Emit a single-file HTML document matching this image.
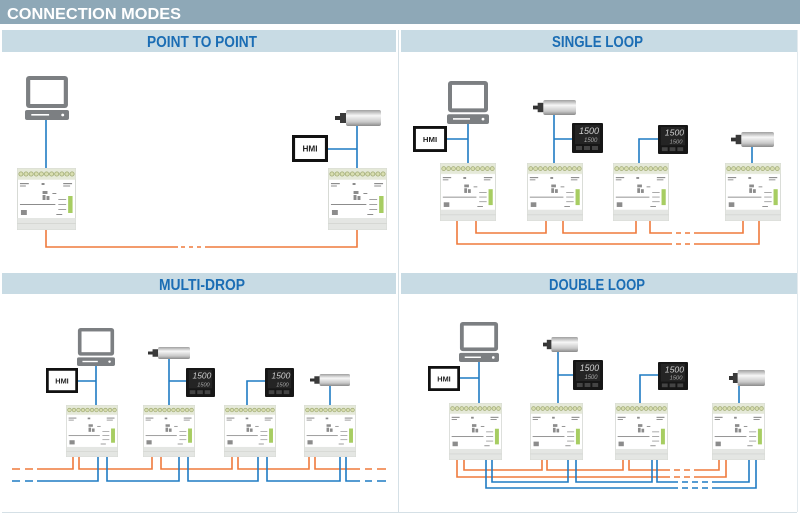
<!DOCTYPE html>
<html><head><meta charset="utf-8"><style>
html,body{margin:0;padding:0;background:#fff;width:800px;height:520px;overflow:hidden}
svg{display:block}
.hd{font-family:"Liberation Sans Narrow","Liberation Sans",sans-serif;font-weight:bold;fill:#1b6db4;font-size:16px}
.o{fill:none;stroke:#ef7a3c;stroke-width:1.6}
.b{fill:none;stroke:#1f7bc3;stroke-width:1.6}
</style></head><body>
<svg width="800" height="520" viewBox="0 0 800 520" xmlns="http://www.w3.org/2000/svg">
<defs>
<linearGradient id="mg" x1="0" y1="0" x2="0" y2="1">
<stop offset="0" stop-color="#a0a0a0"/><stop offset="0.35" stop-color="#f6f6f6"/><stop offset="0.75" stop-color="#c8c8c8"/><stop offset="1" stop-color="#8a8a8a"/></linearGradient>
<symbol id="dev" viewBox="0 0 60 62" preserveAspectRatio="none">
<rect x="0.5" y="0.5" width="59" height="61" fill="#f2f3f1" stroke="#d6d9d4"/>
<rect x="0.5" y="0.5" width="59" height="11" fill="#e5e9d8"/>
<g fill="#d8deb0" stroke="#a1ab76" stroke-width="0.8">
<circle cx="4" cy="6" r="2.1"/><circle cx="9.2" cy="6" r="2.1"/><circle cx="14.4" cy="6" r="2.1"/><circle cx="19.6" cy="6" r="2.1"/><circle cx="24.8" cy="6" r="2.1"/><circle cx="30" cy="6" r="2.1"/><circle cx="35.2" cy="6" r="2.1"/><circle cx="40.4" cy="6" r="2.1"/><circle cx="45.6" cy="6" r="2.1"/><circle cx="50.8" cy="6" r="2.1"/><circle cx="56" cy="6" r="2.1"/></g>
<rect x="1" y="12" width="58" height="38" fill="#fff"/>
<g fill="#8c8c8c"><rect x="3" y="15" width="9" height="1.2"/><rect x="3" y="17.5" width="6" height="1"/><rect x="25" y="15" width="3" height="2"/><rect x="47" y="15" width="9" height="1.2"/><rect x="47" y="17.5" width="7" height="1"/>
<rect x="26" y="23" width="5" height="3"/><rect x="26" y="27" width="3" height="5"/><rect x="30" y="28" width="3" height="4"/><rect x="36" y="25" width="4" height="1"/>
<rect x="3" y="36" width="36" height="1"/><rect x="42" y="31" width="8" height="0.8"/><rect x="42" y="36" width="8" height="0.8"/><rect x="42" y="41" width="8" height="0.8"/>
<rect x="4" y="42" width="6" height="5"/><rect x="40" y="46" width="6" height="1"/></g>
<rect x="52" y="28" width="4.5" height="17" fill="#a7cd62"/>
<rect x="0.5" y="50" width="59" height="11.5" fill="#e4e6e3"/>
<rect x="0.5" y="55" width="59" height="0.8" fill="#d2d4d1"/>
</symbol>
<symbol id="pc" viewBox="0 0 42 44" preserveAspectRatio="none">
<rect x="1" y="0" width="40" height="32" rx="3" fill="#7c7f82"/>
<rect x="5" y="4" width="32" height="24" fill="#fff"/>
<rect x="0" y="34" width="42" height="10" rx="2" fill="#7c7f82"/>
<rect x="6" y="38" width="17" height="1.6" fill="#fff"/>
<circle cx="36" cy="39" r="1.4" fill="#fff"/>
</symbol>
<symbol id="mot" viewBox="0 0 46 16" preserveAspectRatio="none">
<rect x="0" y="6" width="6" height="4" fill="#333"/>
<rect x="5" y="3" width="7" height="10" fill="#3a3a3a"/>
<rect x="11" y="0" width="35" height="16" rx="2" fill="url(#mg)"/>
</symbol>
<symbol id="ctl" viewBox="0 0 31 30" preserveAspectRatio="none">
<rect x="0" y="0" width="31" height="30" rx="1" fill="#161616"/>
<rect x="3" y="2" width="25" height="19" fill="#242424"/>
<text x="7" y="11" font-family="Liberation Sans,sans-serif" font-size="9" font-style="italic" fill="#d0d0d0">1500</text>
<text x="12" y="19" font-family="Liberation Sans,sans-serif" font-size="6" font-style="italic" fill="#aaa">1500</text>
<rect x="4" y="23" width="6" height="4" fill="#444"/><rect x="12" y="23" width="6" height="4" fill="#444"/><rect x="20" y="23" width="6" height="4" fill="#444"/>
</symbol>
<symbol id="hmi" viewBox="0 0 35 27" preserveAspectRatio="none">
<rect x="1.5" y="1.5" width="32" height="24" fill="#fff" stroke="#111" stroke-width="3"/>
<text x="17.5" y="16.5" text-anchor="middle" font-family="Liberation Sans Narrow,Liberation Sans,sans-serif" font-weight="bold" font-size="8" fill="#222">HMI</text>
</symbol>
</defs>

<!-- Title -->
<rect x="0" y="0" width="800" height="24" fill="#8ea8b7"/>
<text x="7" y="19" font-family="Liberation Sans,sans-serif" font-weight="bold" font-size="16" fill="#fff" textLength="174" lengthAdjust="spacingAndGlyphs">CONNECTION MODES</text>

<!-- headers -->
<rect x="2" y="30" width="394" height="22" fill="#c8dbe4"/>
<rect x="401" y="30" width="396" height="22" fill="#c8dbe4"/>
<rect x="2" y="273" width="394" height="21" fill="#c8dbe4"/>
<rect x="401" y="273" width="396" height="21" fill="#c8dbe4"/>
<text class="hd" x="147" y="47" textLength="110" lengthAdjust="spacingAndGlyphs">POINT TO POINT</text>
<text class="hd" x="552" y="47" textLength="91" lengthAdjust="spacingAndGlyphs">SINGLE LOOP</text>
<text class="hd" x="159" y="290" textLength="86" lengthAdjust="spacingAndGlyphs">MULTI-DROP</text>
<text class="hd" x="549" y="290" textLength="96" lengthAdjust="spacingAndGlyphs">DOUBLE LOOP</text>

<line x1="398.5" y1="30" x2="398.5" y2="512" stroke="#d5e0e6"/>
<line x1="797.5" y1="30" x2="797.5" y2="512" stroke="#e3eaee"/>
<line x1="2" y1="512.5" x2="797" y2="512.5" stroke="#d5e0e6"/>

<!-- POINT TO POINT -->
<use href="#pc" x="25" y="76" width="44" height="44"/>
<path class="b" d="M46 120V168"/>
<use href="#mot" x="335" y="110" width="46" height="16"/>
<use href="#hmi" x="292" y="135" width="36" height="27"/>
<path class="b" d="M357 126V168M328 149H357"/>
<use href="#dev" x="17" y="168" width="59" height="62"/>
<use href="#dev" x="328" y="168" width="59" height="62"/>
<path class="o" d="M46 230V247H178M181 247H185M189 247H193M197 247H201M205 247H357V230"/>

<!-- SINGLE LOOP -->
<use href="#pc" x="447" y="81" width="42" height="43"/>
<use href="#hmi" x="413" y="126" width="34" height="26"/>
<path class="b" d="M468 124V163M447 139H468"/>
<use href="#mot" x="533" y="100" width="43" height="15"/>
<path class="b" d="M554 115V163M554 139H572"/>
<use href="#ctl" x="572" y="123" width="31" height="30"/>
<use href="#ctl" x="658" y="125" width="30" height="29"/>
<path class="b" d="M639 163V139H658"/>
<use href="#mot" x="731" y="132" width="43" height="15"/>
<path class="b" d="M752 147V163"/>
<use href="#dev" x="440" y="163" width="56" height="58"/>
<use href="#dev" x="527" y="163" width="56" height="58"/>
<use href="#dev" x="613" y="163" width="56" height="58"/>
<use href="#dev" x="725" y="163" width="56" height="58"/>
<path class="o" d="M476 221V233H546V221M563 221V233H636V221M650 221V233H672M676 233H681M685 233H690M694 233H743V221"/>
<path class="o" d="M457 221V244H672M676 244H681M685 244H690M694 244H759V221"/>

<!-- MULTI-DROP -->
<use href="#pc" x="77" y="328" width="38" height="38"/>
<use href="#hmi" x="46" y="368" width="32" height="25"/>
<path class="b" d="M96 366V405M78 381H96"/>
<use href="#mot" x="148" y="347" width="42" height="12"/>
<path class="b" d="M169 359V405M169 381H186"/>
<use href="#ctl" x="186" y="368" width="29" height="29"/>
<use href="#ctl" x="265" y="368" width="29" height="29"/>
<path class="b" d="M247 405V381H265"/>
<use href="#mot" x="310" y="374" width="40" height="12"/>
<path class="b" d="M330 386V405"/>
<use href="#dev" x="66" y="405" width="52" height="52"/>
<use href="#dev" x="143" y="405" width="52" height="52"/>
<use href="#dev" x="224" y="405" width="52" height="52"/>
<use href="#dev" x="304" y="405" width="52" height="52"/>
<path class="o" d="M12 469H20M25 469H33M37 469H73V457M79 457V469H152V457M161 457V469H232V457M238 457V469H309V457M315 457V469H360M365 469H372M377 469H386"/>
<path class="b" d="M12 481H20M25 481H33M37 481H98V457M107 457V481H179V457M188 457V481H258V457M267 457V481H340V457M346 457V481H360M365 481H372M377 481H386"/>

<!-- DOUBLE LOOP -->
<use href="#pc" x="459" y="322" width="40" height="40"/>
<use href="#hmi" x="428" y="366" width="32" height="25"/>
<path class="b" d="M479 362V403M460 378H479"/>
<use href="#mot" x="543" y="337" width="35" height="15"/>
<path class="b" d="M558 352V403M558 375H573"/>
<use href="#ctl" x="573" y="360" width="30" height="30"/>
<use href="#ctl" x="658" y="362" width="30" height="28"/>
<path class="b" d="M640 403V375H658"/>
<use href="#mot" x="729" y="370" width="36" height="16"/>
<path class="b" d="M739 386V403"/>
<use href="#dev" x="449" y="403" width="53" height="57"/>
<use href="#dev" x="530" y="403" width="53" height="57"/>
<use href="#dev" x="615" y="403" width="53" height="57"/>
<use href="#dev" x="712" y="403" width="53" height="57"/>
<path class="o" d="M464 460V470H542V460M547 460V470H623V460M629 460V470H670M674 470H680M684 470H690M694 470H719V460"/>
<path class="o" d="M457 460V477H670M674 477H680M684 477H690M694 477H726V460"/>
<path class="b" d="M492 460V482H568V460M576 460V482H652V460M657 460V482H678M682 482H688M692 482H698M702 482H708M712 482H749V460"/>
<path class="b" d="M486 460V488H678M682 488H688M692 488H698M702 488H708M712 488H756V460"/>
</svg>
</body></html>
